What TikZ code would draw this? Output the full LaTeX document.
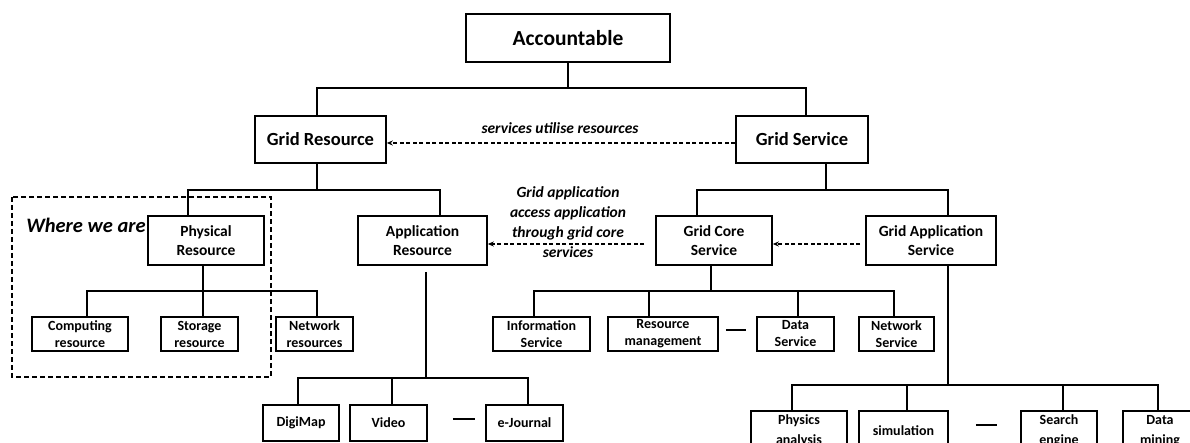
\documentclass[tikz,border=0pt]{standalone}
\usepackage{fontspec}
\setmainfont{Carlito}
\usetikzlibrary{arrows.meta,calc}

\begin{document}
\begin{tikzpicture}[x=1pt,y=-1pt,
  box/.style={draw,line width=1.6pt,align=center,inner sep=0pt},
  rootbox/.style={box,font=\fontsize{21.5}{25}\selectfont\bfseries},
  lvlone/.style={box,font=\fontsize{18.5}{22}\selectfont\bfseries,minimum height=47pt},
  lvltwo/.style={box,font=\fontsize{15.5}{19}\selectfont\bfseries,minimum height=49pt},
  leaf/.style={box,font=\fontsize{14}{17}\selectfont\bfseries,minimum height=34pt},
  lowleaf/.style={box,font=\fontsize{14}{20}\selectfont\bfseries,minimum height=40pt},
  link/.style={line width=1.6pt},
  rel/.style={line width=1.3pt,dash pattern=on 4pt off 2.5pt,-{Stealth[length=6pt,width=5pt]}},
  note/.style={font=\fontsize{15.5}{20}\selectfont\bfseries\itshape,align=center}
]
\useasboundingbox (0,0) rectangle (1190,443);
\clip (0,0) rectangle (1190,443);

% ---- boxes ----
\node[rootbox,minimum width=204pt,minimum height=48pt] (acc) at (568,38) {Accountable};

\node[lvlone,minimum width=131pt] (gres) at (320.5,139.5) {Grid Resource};
\node[lvlone,minimum width=132pt] (gsrv) at (802,139.5) {Grid Service};

\node[lvltwo,minimum width=116pt] (phys) at (206,240.5) {Physical\\Resource};
\node[lvltwo,minimum width=129pt] (appres) at (422.5,240.5) {Application\\Resource};
\node[lvltwo,minimum width=116pt] (gcore) at (714,240.5) {Grid Core\\Service};
\node[lvltwo,minimum width=130pt] (gapp) at (931,240.5) {Grid Application\\Service};

\node[leaf,minimum width=96pt] (comp) at (80,334) {Computing\\resource};
\node[leaf,minimum width=77pt] (stor) at (199.5,334) {Storage\\resource};
\node[leaf,minimum width=77pt] (netr) at (314.5,334) {Network\\resources};

\node[leaf,minimum width=97pt] (info) at (541.5,334) {Information\\Service};
\node[leaf,minimum width=110pt] (resm) at (663,334) {Resource\\management};
\node[leaf,minimum width=77pt] (data) at (795.5,334) {Data\\Service};
\node[leaf,minimum width=75pt] (nets) at (896.5,334) {Network\\Service};

\node[leaf,minimum width=76pt,minimum height=36pt] (digi) at (301,423) {DigiMap};
\node[leaf,minimum width=77pt,minimum height=36pt] (video) at (388.5,423) {Video};
\node[leaf,minimum width=77pt,minimum height=36pt] (ejour) at (524.5,423) {e-Journal};

\node[lowleaf,minimum width=96pt] (phy) at (799,431) {Physics\\analysis};
\node[lowleaf,minimum width=89pt] (sim) at (903.5,431) {simulation};
\node[lowleaf,minimum width=76pt] (search) at (1059,431) {Search\\engine};
\node[lowleaf,minimum width=74pt] (dmin) at (1160,431) {Data\\mining};

% ---- scope marker ----
\draw[line width=1.8pt,dash pattern=on 5pt off 3pt] (12,197) rectangle (271,377);
\node[font=\fontsize{20.5}{24}\selectfont\bfseries\itshape] (where) at (86,225) {Where we are};

% ---- tree connectors ----
\coordinate (yA) at (0,88);
\coordinate (yB) at (0,190);
\coordinate (yD) at (0,291);
\coordinate (yF) at (0,378);
\coordinate (yG) at (0,385);

\coordinate (gresN) at ([xshift=-3.5pt]gres.north);
\coordinate (gsrvN) at ([xshift=4pt]gsrv.north);
\draw[link] (acc.south) -- (acc.south |- yA);
\draw[link] (gresN) -- (gresN |- yA) -- (gsrvN |- yA) -- (gsrvN);

\coordinate (gresS) at ([xshift=-3.5pt]gres.south);
\coordinate (physN) at ([xshift=-18pt]phys.north);
\coordinate (appN) at ([xshift=17.5pt]appres.north);
\draw[link] (gresS) -- (gresS |- yB);
\draw[link] (physN) -- (physN |- yB) -- (appN |- yB) -- (appN);

\coordinate (gsrvS) at ([xshift=24pt]gsrv.south);
\coordinate (gcoreN) at ([xshift=-17pt]gcore.north);
\coordinate (gappN) at ([xshift=17pt]gapp.north);
\draw[link] (gsrvS) -- (gsrvS |- yB);
\draw[link] (gcoreN) -- (gcoreN |- yB) -- (gappN |- yB) -- (gappN);

\coordinate (physS) at ([xshift=-3pt]phys.south);
\coordinate (compN) at ([xshift=7pt]comp.north);
\coordinate (storN) at ([xshift=3.5pt]stor.north);
\coordinate (netrN) at ([xshift=2.5pt]netr.north);
\draw[link] (physS) -- (physS |- yD);
\draw[link] (compN) -- (compN |- yD) -- (netrN |- yD) -- (netrN);
\draw[link] (storN) -- (storN |- yD);

\coordinate (gcoreS) at ([xshift=-3pt]gcore.south);
\coordinate (infoN) at ([xshift=-7.5pt]info.north);
\coordinate (resmN) at ([xshift=-14pt]resm.north);
\coordinate (dataN) at ([xshift=2.5pt]data.north);
\coordinate (netsN) at ([xshift=-2.5pt]nets.north);
\draw[link] (gcoreS) -- (gcoreS |- yD);
\draw[link] (infoN) -- (infoN |- yD) -- (netsN |- yD) -- (netsN);
\draw[link] (resmN) -- (resmN |- yD);
\draw[link] (dataN) -- (dataN |- yD);

\coordinate (appS) at ([xshift=3.5pt,yshift=-6pt]appres.south);
\coordinate (digiN) at ([xshift=-3pt]digi.north);
\coordinate (videoN) at ([xshift=3.5pt]video.north);
\coordinate (ejourN) at ([xshift=3.5pt]ejour.north);
\draw[link] (appS) -- (appS |- yF);
\draw[link] (digiN) -- (digiN |- yF) -- (ejourN |- yF) -- (ejourN);
\draw[link] (videoN) -- (videoN |- yF);

\coordinate (gappS) at ([xshift=17pt]gapp.south);
\coordinate (phyN) at ([xshift=-7pt]phy.north);
\coordinate (simN) at ([xshift=3.5pt]sim.north);
\coordinate (searchN) at ([xshift=4pt]search.north);
\coordinate (dminN) at ([xshift=-2pt]dmin.north);
\draw[link] (gappS) -- (gappS |- yG);
\draw[link] (phyN) -- (phyN |- yG) -- (dminN |- yG) -- (dminN);
\draw[link] (simN) -- (simN |- yG);
\draw[link] (searchN) -- (searchN |- yG);

% ---- "and more" marks between siblings ----
\draw[link] ($(video.east)+(25,-4)$) -- ++(22,0);
\draw[link] ($(resm.east)+(7,-4)$) -- ++(20,0);
\draw[link] ($(sim.east)+(27,-6)$) -- ++(21,0);

% ---- usage relations ----
\draw[rel] ([yshift=-3.5pt]gsrv.west) -- ([yshift=-3.5pt]gres.east);
\draw[rel] ([xshift=-11pt,yshift=-3.5pt]gcore.west) -- ([yshift=-3.5pt]appres.east);
\draw[rel] ([xshift=-5pt,yshift=-3.5pt]gapp.west) -- ([yshift=-3.5pt]gcore.east);

\node[note] (lblA) at (560,128) {services utilise resources};
\node[note] (lblB) at (568,222) {Grid application\\access application\\through grid core\\services};
\end{tikzpicture}
\end{document}
